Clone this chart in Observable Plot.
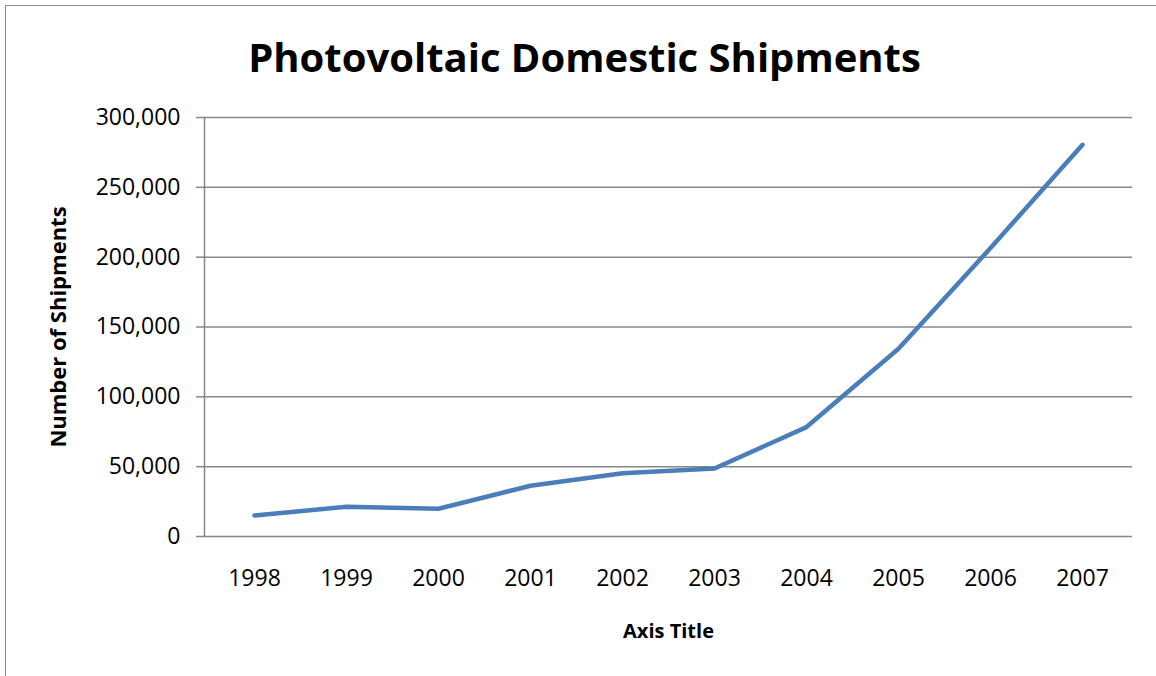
<!DOCTYPE html>
<html>
<head>
<meta charset="utf-8">
<script src="https://cdn.jsdelivr.net/npm/d3@7"></script>
<script src="https://cdn.jsdelivr.net/npm/@observablehq/plot@0.6"></script>
<style>
  html, body { margin: 0; padding: 0; background: #fff; }
  #chart { position: relative; width: 1156px; height: 676px; overflow: hidden; }
  #border { position: absolute; left: 5px; top: 5px; width: 1160px; height: 680px;
            border-left: 1.5px solid #8a8a8a; border-top: 1.5px solid #8a8a8a; box-sizing: border-box; }
  #chart svg { position: absolute; left: 0; top: 0; }
</style>
</head>
<body>
<div id="chart"><div id="border"></div></div>
<script>
// US photovoltaic domestic shipments by year
const years = ["1998", "1999", "2000", "2001", "2002", "2003", "2004", "2005", "2006", "2007"];
const shipments = [15069, 21225, 19838, 36310, 45313, 48664, 78346, 134465, 206511, 280475];
const yTicks = [0, 50000, 100000, 150000, 200000, 250000, 300000];

const chartTitle = "Photovoltaic Domestic Shipments";
const xTitle = "Axis Title";
const yTitle = "Number of Shipments";

const data = years.map((year, i) => ({year, value: shipments[i]}));
const fmt = d3.format(",");
const font = "'Open Sans', Calibri, sans-serif";
const grid = "#878787";

const plot = Plot.plot({
  width: 1156,
  height: 676,
  marginLeft: 204,
  marginRight: 24,
  marginTop: 117,
  marginBottom: 140,
  style: {fontFamily: font, fontSize: "23px", color: "#000", background: "transparent", overflow: "visible"},
  x: {type: "point", domain: years, padding: 0.5},
  y: {domain: [0, 300000]},
  marks: [
    Plot.gridY(yTicks, {stroke: grid, strokeOpacity: 1, strokeWidth: 1.5}),
    Plot.axisY(yTicks, {tickSize: 8, tickPadding: 16, stroke: grid, strokeWidth: 1.5,
      tickFormat: fmt, fill: "#000", label: null}),
    Plot.axisX({tickSize: 0, tickPadding: 33, fill: "#000", label: null}),
    Plot.frame({anchor: "left", stroke: grid, strokeWidth: 1.5}),
    Plot.line(data, {x: "year", y: "value", stroke: "#4a7ebb", strokeWidth: 4.5,
      strokeLinecap: "round", strokeLinejoin: "round"}),
    Plot.text([chartTitle], {frameAnchor: "top", dy: -74, text: d => d,
      fontSize: 40, fontWeight: "bold", fill: "#000", dx: -84}),
    Plot.text([xTitle], {frameAnchor: "bottom", dy: 101, text: d => d,
      fontSize: 20, fontWeight: "bold", fill: "#000"}),
    Plot.text([yTitle], {frameAnchor: "left", dx: -146, rotate: -90, textAnchor: "middle",
      text: d => d, fontSize: 22, fontWeight: "bold", fill: "#000"})
  ]
});
document.getElementById("chart").appendChild(plot);
</script>
</body>
</html>
